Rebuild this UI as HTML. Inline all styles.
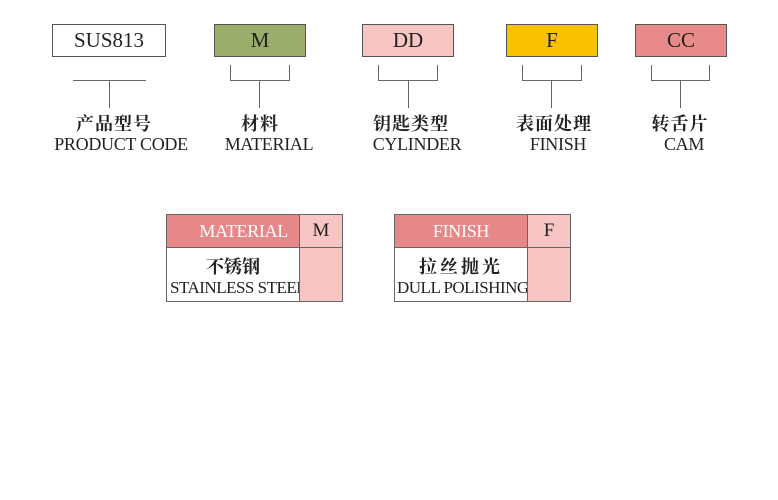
<!DOCTYPE html>
<html><head><meta charset="utf-8"><style>
body{margin:0;width:778px;height:500px;background:#fff;position:relative;overflow:hidden;font-family:"Liberation Serif","Noto Serif CJK SC",serif;color:#222}
.a{position:absolute;box-sizing:border-box}
.box{border:1px solid #555;font-size:21px;text-align:center;line-height:31px;height:33px;top:24px}
.l{position:absolute;background:#666}
.cn{position:absolute;font-family:"Noto Serif CJK SC",serif;font-weight:bold;font-size:18px;text-align:center;top:110px;width:160px;letter-spacing:1px}
.en{position:absolute;font-size:18px;text-align:center;top:134px;width:200px;letter-spacing:-0.3px}
</style></head><body>
<div class="a box" style="left:52px;width:114px;">SUS813</div>
<div class="a box" style="left:214px;width:92px;background:#9aad6a;">M</div>
<div class="a box" style="left:362px;width:92px;background:#f7c6c3;">DD</div>
<div class="a box" style="left:506px;width:92px;background:#f8c200;">F</div>
<div class="a box" style="left:635px;width:92px;background:#e98a8a;">CC</div>

<div class="l" style="left:73px;top:80px;width:73px;height:1px"></div>
<div class="l" style="left:109px;top:80px;width:1px;height:28px"></div>

<div class="l" style="left:230px;top:65px;width:1px;height:16px"></div><div class="l" style="left:289px;top:65px;width:1px;height:16px"></div><div class="l" style="left:230px;top:80px;width:60px;height:1px"></div><div class="l" style="left:259px;top:80px;width:1px;height:28px"></div>
<div class="l" style="left:378px;top:65px;width:1px;height:16px"></div><div class="l" style="left:437px;top:65px;width:1px;height:16px"></div><div class="l" style="left:378px;top:80px;width:60px;height:1px"></div><div class="l" style="left:408px;top:80px;width:1px;height:28px"></div>
<div class="l" style="left:522px;top:65px;width:1px;height:16px"></div><div class="l" style="left:581px;top:65px;width:1px;height:16px"></div><div class="l" style="left:522px;top:80px;width:60px;height:1px"></div><div class="l" style="left:551px;top:80px;width:1px;height:28px"></div>
<div class="l" style="left:651px;top:65px;width:1px;height:16px"></div><div class="l" style="left:709px;top:65px;width:1px;height:16px"></div><div class="l" style="left:651px;top:80px;width:59px;height:1px"></div><div class="l" style="left:680px;top:80px;width:1px;height:28px"></div>

<div class="cn" style="left:34px">产品型号</div><div class="en" style="left:21px">PRODUCT CODE</div>
<div class="cn" style="left:180px">材料</div><div class="en" style="left:169px">MATERIAL</div>
<div class="cn" style="left:331px">钥匙类型</div><div class="en" style="left:317px">CYLINDER</div>
<div class="cn" style="left:474px">表面处理</div><div class="en" style="left:458px">FINISH</div>
<div class="cn" style="left:600px">转舌片</div><div class="en" style="left:584px">CAM</div>

<!-- table 1 -->
<div class="a" style="left:166px;top:214px;width:177px;height:88px;border:1px solid #666;"></div>
<div class="a" style="left:167px;top:215px;width:132px;height:32px;background:#e88787;color:#fff;font-size:18px;text-align:right;padding-right:11px;line-height:32px;letter-spacing:-0.3px">MATERIAL</div>
<div class="a" style="left:299px;top:215px;width:43px;height:86px;background:#f7c5c3;border-left:1px solid #666;font-size:19px;text-align:center;line-height:32px">M</div>
<div class="l" style="left:167px;top:247px;width:175px;height:1px"></div>
<div class="a" style="left:167px;top:255px;width:132px;font-family:'Noto Serif CJK SC',serif;font-weight:bold;font-size:18px;text-align:center;line-height:22px">不锈钢</div>
<div class="a" style="left:170px;top:278px;width:129px;font-size:17px;line-height:20px;letter-spacing:-0.5px;white-space:nowrap;overflow:hidden">STAINLESS STEEL</div>

<!-- table 2 -->
<div class="a" style="left:394px;top:214px;width:177px;height:88px;border:1px solid #666;"></div>
<div class="a" style="left:395px;top:215px;width:132px;height:32px;background:#e88787;color:#fff;font-size:18px;text-align:center;line-height:32px;letter-spacing:-0.3px">FINISH</div>
<div class="a" style="left:527px;top:215px;width:43px;height:86px;background:#f7c5c3;border-left:1px solid #666;font-size:19px;text-align:center;line-height:32px">F</div>
<div class="l" style="left:395px;top:247px;width:175px;height:1px"></div>
<div class="a" style="left:395px;top:255px;width:132px;font-family:'Noto Serif CJK SC',serif;font-weight:bold;font-size:18px;text-align:center;line-height:22px;letter-spacing:3px">拉丝抛光</div>
<div class="a" style="left:397px;top:278px;width:130px;font-size:17px;line-height:20px;letter-spacing:-0.5px;white-space:nowrap;overflow:hidden">DULL POLISHING</div>
</body></html>
